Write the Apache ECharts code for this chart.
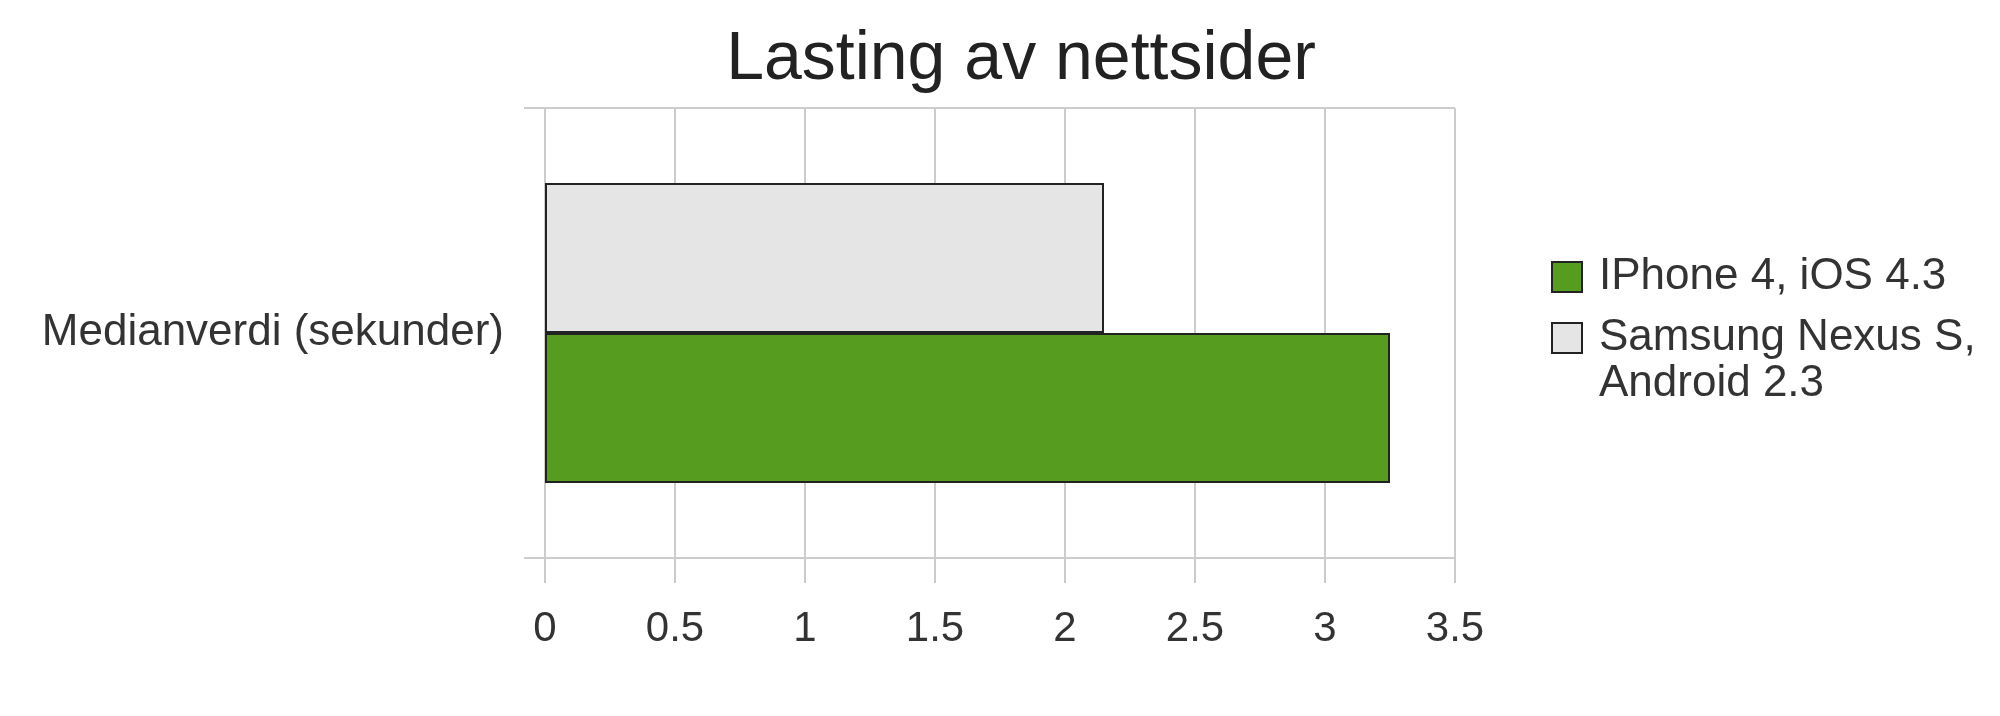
<!DOCTYPE html>
<html>
<head>
<meta charset="utf-8">
<script src="https://cdn.jsdelivr.net/npm/echarts@6/dist/echarts.min.js"></script>
<style>
html,body{margin:0;padding:0;background:#fff;}
#c{width:2000px;height:716px;}
</style>
</head>
<body>
<div id="c"></div>
<script>
const titleText = 'Lasting av nettsider';
const categories = ['Medianverdi (sekunder)'];
const seriesNames = ['IPhone 4, iOS 4.3', 'Samsung Nexus S, Android 2.3'];
const iphoneValues = [3.25];
const samsungValues = [2.15];
const xMin = 0, xMax = 3.5, xStep = 0.5;

const FONT = '"Liberation Sans", Arial, sans-serif';
const chart = echarts.init(document.getElementById('c'), null, {renderer: 'canvas'});
chart.setOption({
  backgroundColor: '#ffffff',
  animation: false,
  title: {
    text: titleText,
    left: 1016, top: 21, textAlign: 'center',
    textStyle: {fontFamily: FONT, fontSize: 68, fontWeight: 'normal', color: '#222222'}
  },
  legend: {
    orient: 'vertical',
    left: 1551, top: 254, padding: 0,
    itemWidth: 30, itemHeight: 30, itemGap: -31,
    icon: 'rect',
    data: [seriesNames[0], seriesNames[1]],
    formatter: function (n) {
      return n.indexOf(', Android') >= 0 ? '\n' + n.replace(', Android', ',\nAndroid') : n;
    },
    textStyle: {fontFamily: FONT, fontSize: 44, lineHeight: 46, color: '#333333', padding: [0, 0, 0, 12]}
  },
  grid: {left: 545, right: 545, top: 108, bottom: 158, containLabel: false},
  xAxis: {
    type: 'value', min: xMin, max: xMax, interval: xStep,
    axisLine: {show: false},
    axisTick: {show: true, length: 25, lineStyle: {color: '#cccccc', width: 2}},
    splitLine: {show: true, lineStyle: {color: '#cccccc', width: 2}},
    axisLabel: {margin: 50, fontFamily: FONT, fontSize: 42, color: '#333333'}
  },
  yAxis: {
    type: 'category', data: categories,
    axisLine: {show: false},
    axisTick: {show: true, length: 21, lineStyle: {color: '#cccccc', width: 2}},
    splitLine: {show: true, lineStyle: {color: '#cccccc', width: 2}},
    axisLabel: {margin: 41, fontFamily: FONT, fontSize: 44, color: '#333333'}
  },
  series: [
    {
      name: seriesNames[1], type: 'bar', data: samsungValues,
      barGap: '0%', barCategoryGap: '33.3%',
      itemStyle: {color: '#e5e5e5', borderColor: '#222222', borderWidth: 2}
    },
    {
      name: seriesNames[0], type: 'bar', data: iphoneValues,
      barGap: '0%', barCategoryGap: '33.3%',
      itemStyle: {color: '#569c1e', borderColor: '#222222', borderWidth: 2}
    }
  ]
});
</script>
</body>
</html>
